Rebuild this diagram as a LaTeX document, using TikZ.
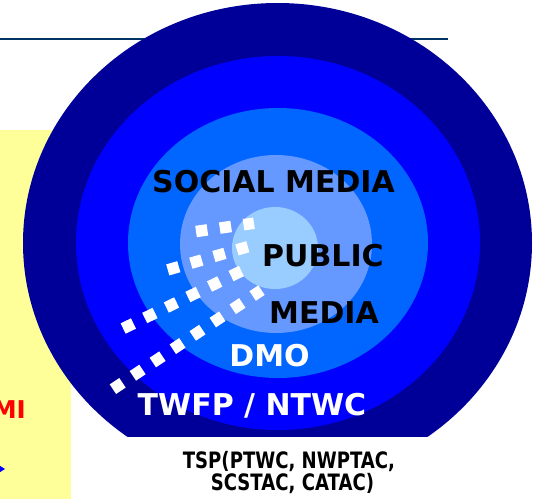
\documentclass[tikz,border=0pt]{standalone}
\usepackage{fontspec}
\setmainfont{DejaVu Sans}
\newfontfamily\narrowfont[FakeStretch=0.8]{DejaVu Sans}
\usetikzlibrary{calc,arrows.meta}
\definecolor{ringA}{HTML}{000099}
\definecolor{ringB}{HTML}{0000FF}
\definecolor{ringC}{HTML}{0066FF}
\definecolor{ringD}{HTML}{6699FF}
\definecolor{ringE}{HTML}{99CCFF}
\definecolor{panel}{HTML}{FFFF99}
\definecolor{rule}{HTML}{003366}
\begin{document}
\begin{tikzpicture}[x=1pt, y=-1pt,
		biglabel/.style={font=\fontsize{30}{36}\selectfont\bfseries, anchor=base, inner sep=0pt},
		smalllabel/.style={font=\fontsize{22.6}{22}\selectfont\narrowfont\bfseries, anchor=base, inner sep=0pt},
		dotrow/.style={white, line width=11.5pt, dash pattern=on 11.5pt off 12.5pt}]
		\useasboundingbox (0,0) rectangle (539,499);

		\fill[panel] (0,130) rectangle (71,499);
		\draw[rule, line width=2pt] (0,39) -- (448,39);

		\node[biglabel, text=red, anchor=base east, font=\fontsize{24.5}{28}\selectfont\bfseries] (mi) at (26,418) {MI};
		\coordinate (arrowtail) at (-20,469);
		\coordinate (arrowtip) at (5,469);
		\draw[blue, line width=0.8pt, -{Triangle[length=5pt, width=6pt]}] (arrowtail) -- (arrowtip);

		\begin{scope}
			\clip (0,0) rectangle (539,436);
			\fill[ringA] (277.5,243) ellipse [x radius=254.5, y radius=240];
			\fill[ringB] (278,243) ellipse [x radius=202, y radius=187];
			\fill[ringC] (278,243) ellipse [x radius=150, y radius=135];
			\fill[ringD] (276,244) ellipse [x radius=96, y radius=89];
			\fill[ringE] (275,248) ellipse [x radius=43, y radius=41];
		\end{scope}

		\coordinate (r1a) at (201.7,230.7);
		\coordinate (r1b) at (248.3,224);
		\coordinate (r2a) at (173.3,268.3);
		\coordinate (r2b) at (242.3,248.3);
		\coordinate (r3a) at (128.3,326);
		\coordinate (r3b) at (236.7,273.3);
		\coordinate (r4a) at (117.7,386);
		\coordinate (r4b) at (256.7,293.3);
		\foreach \r in {1,...,4} {
			\draw[dotrow] ($(r\r a)!-5.75pt!(r\r b)$) -- ($(r\r b)!-5.75pt!(r\r a)$);
		}

		\node[biglabel] (social) at (273.5,192) {SOCIAL MEDIA};
		\node[biglabel] (public) at (323,266.5) {PUBLIC};
		\node[biglabel] (media) at (324,323.5) {MEDIA};
		\node[biglabel, text=white] (dmo) at (269.5,366) {DMO};
		\node[biglabel, text=white] (twfp) at (252,415) {TWFP / NTWC};

		\node[smalllabel] (tspa) at (289,468.3) {TSP(PTWC, NWPTAC,};
		\node[smalllabel] (tspb) at (292.5,490) {SCSTAC, CATAC)};
	\end{tikzpicture}
\end{document}
